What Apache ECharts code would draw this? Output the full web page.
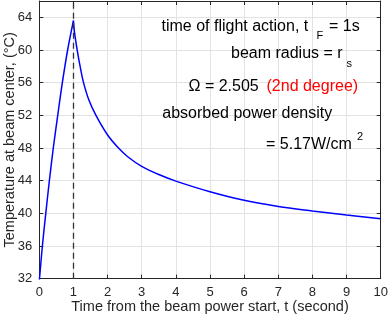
<!DOCTYPE html>
<html>
<head>
<meta charset="utf-8">
<script src="https://cdn.jsdelivr.net/npm/echarts@6/dist/echarts.min.js"></script>
<style>
html,body{margin:0;padding:0;background:#fff;}
#c{width:388px;height:317px;}
</style>
</head>
<body>
<div id="c"></div>
<script>
// Heating phase (beam on)
const tHeat = [0, 0.09, 0.19, 0.295, 0.41, 0.54, 0.675, 0.83, 1.0];
const TempHeat = [31.7, 36, 40, 44, 48, 52, 56, 60, 63.6];
// Cooling phase (beam off)
const tCool = [1.0, 1.03, 1.11, 1.2, 1.29, 1.45, 1.66, 2.0, 2.32, 2.6, 3.0, 3.5, 4, 5, 6, 7, 8, 9, 10];
const TempCool = [63.6, 62.2, 60, 57.9, 56.1, 53.9, 52, 49.6, 48, 46.9, 45.75, 44.75, 43.95, 42.65, 41.6, 40.85, 40.3, 39.8, 39.35];
const flightTime = 1;
const xTicks = {min: 0, max: 10, interval: 1};
const yTicks = {min: 32, max: 66, interval: 4};

const FONT = '"Liberation Sans", Arial, Helvetica, sans-serif';
const AX = '#262626';
const GRID = '#e3e3e3';

const chart = echarts.init(document.getElementById('c'), null, {renderer: 'canvas'});

const mainAxisCommon = {
  axisLine: {show: true, onZero: false, lineStyle: {color: AX, width: 1}},
  axisTick: {show: true, inside: true, length: 4, lineStyle: {color: AX, width: 1}},
  splitLine: {show: true, lineStyle: {color: GRID, width: 1}},
  axisLabel: {color: AX, fontSize: 13, fontFamily: FONT, showMaxLabel: false},
  nameTextStyle: {color: AX, fontSize: 14.5, fontFamily: FONT},
  nameLocation: 'middle',
  nameMoveOverlap: false
};
const secAxisCommon = {
  axisLine: {show: true, onZero: false, lineStyle: {color: AX, width: 1}},
  axisTick: {show: true, inside: true, length: 4, lineStyle: {color: AX, width: 1}},
  splitLine: {show: false},
  axisLabel: {show: false}
};

function zip(a, b) { return a.map((v, i) => [v, b[i]]); }

const texts = [
  {x: 161.5, y: 27, t: 'time of flight action, t', c: '#000', s: 16},
  {x: 316.5, y: 35.5, t: 'F', c: '#000', s: 11},
  {x: 329, y: 27, t: '= 1s', c: '#000', s: 16},
  {x: 231, y: 54, t: 'beam radius = r', c: '#000', s: 16},
  {x: 346.5, y: 63.5, t: 's', c: '#000', s: 11},
  {x: 188.5, y: 86.5, t: '\u03A9 = 2.505', c: '#000', s: 16},
  {x: 266.5, y: 86.5, t: '(2nd degree)', c: '#ff0000', s: 16},
  {x: 162.3, y: 113.5, t: 'absorbed power density', c: '#000', s: 16},
  {x: 266, y: 144.5, t: '= 5.17W/cm', c: '#000', s: 16},
  {x: 357, y: 137, t: '2', c: '#000', s: 11}
];

chart.setOption({
  animation: false,
  backgroundColor: '#fff',
  grid: {left: 39.3, right: 7.3, top: 1, bottom: 38.3, containLabel: false, outerBoundsMode: 'none', show: false},
  xAxis: [
    Object.assign({}, mainAxisCommon, {
      type: 'value', position: 'bottom', min: xTicks.min, max: xTicks.max, interval: xTicks.interval,
      name: 'Time from the beam power start, t (second)', nameGap: 21,
      axisLabel: Object.assign({}, mainAxisCommon.axisLabel, {margin: 7, showMaxLabel: true})
    }),
    Object.assign({}, secAxisCommon, {
      type: 'value', position: 'top', min: xTicks.min, max: xTicks.max, interval: xTicks.interval
    })
  ],
  yAxis: [
    Object.assign({}, mainAxisCommon, {
      type: 'value', position: 'left', min: yTicks.min, max: yTicks.max, interval: yTicks.interval,
      name: 'Temperature at beam center, (\u00B0C)', nameGap: 22,
      axisLabel: Object.assign({}, mainAxisCommon.axisLabel, {margin: 7})
    }),
    Object.assign({}, secAxisCommon, {
      type: 'value', position: 'right', min: yTicks.min, max: yTicks.max, interval: yTicks.interval
    })
  ],
  series: [
    {
      type: 'line', data: zip(tHeat, TempHeat), smooth: 0.35,
      showSymbol: false, symbol: 'none', lineStyle: {color: '#0000ff', width: 1.5}, clip: true,
      markLine: {
        silent: true, symbol: ['none', 'none'], label: {show: false},
        lineStyle: {color: '#333333', width: 1.3, type: [6, 4]},
        data: [{xAxis: flightTime}]
      }
    },
    {
      type: 'line', data: zip(tCool, TempCool), smooth: 0.35,
      showSymbol: false, symbol: 'none', lineStyle: {color: '#0000ff', width: 1.5}, clip: true
    }
  ],
  graphic: texts.map(o => ({
    type: 'text', x: o.x, y: o.y, z: 100,
    style: {text: o.t, fill: o.c, fontSize: o.s, fontFamily: FONT, align: 'left', verticalAlign: 'middle'}
  }))
});
</script>
</body>
</html>
